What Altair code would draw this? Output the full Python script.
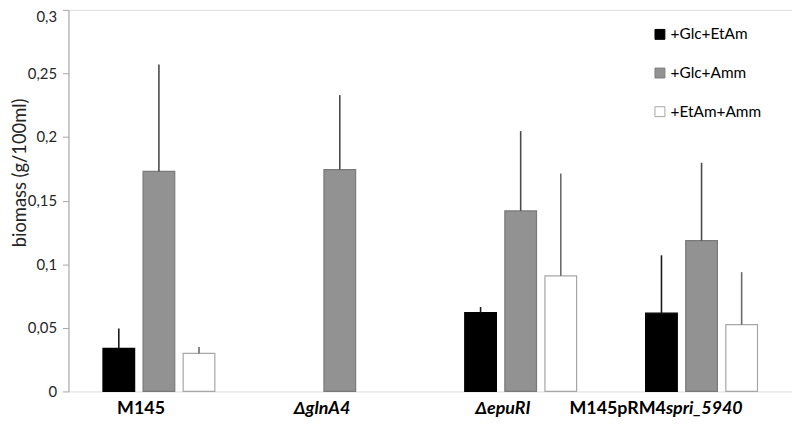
import altair as alt
import pandas as pd

groups = ["M145", "ΔglnA4", "ΔepuRI", "M145pRM4spri_5940"]
series = ["+Glc+EtAm", "+Glc+Amm", "+EtAm+Amm"]

glc_etam = [0.0339, None, 0.0620, 0.0615]
glc_etam_err = [0.0155, None, 0.0044, 0.0455]
glc_amm = [0.1730, 0.1744, 0.1419, 0.1186]
glc_amm_err = [0.0840, 0.0586, 0.0628, 0.0612]
etam_amm = [0.0300, None, 0.0909, 0.0525]
etam_amm_err = [0.0049, None, 0.0804, 0.0413]

y_ticks = [0, 0.05, 0.1, 0.15, 0.2, 0.25, 0.3]

label_upright = ["M145", "", "", "M145pRM4"]
label_italic = ["", "ΔglnA4", "ΔepuRI", "spri_5940"]

rows = []
for s, means, errs in zip(series, [glc_etam, glc_amm, etam_amm],
                          [glc_etam_err, glc_amm_err, etam_amm_err]):
    for g, m, e in zip(groups, means, errs):
        if m is None:
            continue
        rows.append({"group": g, "series": s, "mean": m, "upper": m + e})
df = pd.DataFrame(rows)
labels = pd.DataFrame({"group": groups, "up": label_upright, "it": label_italic})

W, H = 730, 385
FONT = "Lato"

fill_colors = ["#000000", "#929292", "#ffffff"]
stroke_colors = ["#000000", "#7a7a7a", "#a6a6a6"]
err_colors = ["#1a1a1a", "#4a4a4a", "#6a6a6a"]

x_enc = alt.X("group:N", sort=groups, axis=None,
              scale=alt.Scale(domain=groups, paddingInner=0.335, paddingOuter=0.1675))
xo_enc = alt.XOffset("series:N", sort=series,
                     scale=alt.Scale(domain=series, paddingInner=0.21, paddingOuter=0.105))
y_scale = alt.Scale(domain=[0, 0.3], nice=False, zero=True)

legend = alt.Legend(title=None, orient="none", legendX=589, legendY=17,
                    symbolType="square", symbolSize=100, symbolStrokeWidth=1,
                    labelFont=FONT, labelFontSize=15.5, labelColor="#000000",
                    labelOffset=3, rowPadding=22, padding=0)

bars = alt.Chart(df).mark_bar(strokeWidth=1.2).encode(
    x=x_enc,
    xOffset=xo_enc,
    y=alt.Y("mean:Q", scale=y_scale,
            axis=alt.Axis(values=y_ticks, grid=False,
                          labelExpr="replace(format(datum.value, ''), '.', ',')",
                          labelFont=FONT, labelFontSize=15, labelColor="#262626",
                          labelPadding=6,
                          labelOffset={"condition": {"test": "datum.value >= 0.3",
                                                     "value": 7}, "value": 0},
                          domainColor="#a6a6a6", tickColor="#a6a6a6", tickSize=6,
                          title="biomass (g/100ml)", titleFont=FONT,
                          titleFontSize=18.5, titleFontWeight="normal",
                          titleColor="#262626", titleX=-58, titleY=164,
                          titleBaseline="top")),
    fill=alt.Fill("series:N", sort=series,
                  scale=alt.Scale(domain=series, range=fill_colors), legend=legend),
    stroke=alt.Stroke("series:N", sort=series,
                      scale=alt.Scale(domain=series, range=stroke_colors), legend=legend),
)

err_layers = []
for s, c in zip(series, err_colors):
    err_layers.append(
        alt.Chart(df).transform_filter(alt.datum.series == s).mark_rule(
            color=c, strokeWidth=1.6).encode(
            x=x_enc, xOffset=xo_enc,
            y=alt.Y("mean:Q", scale=y_scale), y2="upper:Q")
    )

label_y = alt.value(H + 18)
lab_base = alt.Chart(labels)
DX = -18
DX_SPLIT = -36
LFS = 18
lab_a = lab_base.transform_filter("datum.up != '' && datum.it == ''").mark_text(
    font=FONT, fontSize=LFS, fontWeight="bold", align="center", baseline="middle",
    dx=DX, color="#000000").encode(x=x_enc, y=label_y, text="up:N")
lab_b = lab_base.transform_filter("datum.it != '' && datum.up == ''").mark_text(
    font=FONT, fontSize=LFS, fontWeight="bold", fontStyle="italic", align="center",
    baseline="middle", dx=DX, color="#000000").encode(x=x_enc, y=label_y, text="it:N")
lab_c1 = lab_base.transform_filter("datum.it != '' && datum.up != ''").mark_text(
    font=FONT, fontSize=LFS, fontWeight="bold", align="right", baseline="middle",
    dx=DX_SPLIT, color="#000000").encode(x=x_enc, y=label_y, text="up:N")
lab_c2 = lab_base.transform_filter("datum.it != '' && datum.up != ''").mark_text(
    font=FONT, fontSize=LFS, fontWeight="bold", fontStyle="italic", align="left",
    baseline="middle", dx=DX_SPLIT, color="#000000").encode(x=x_enc, y=label_y, text="it:N")

chart = alt.layer(bars, *err_layers, lab_a, lab_b, lab_c1, lab_c2).properties(
    width=W, height=H,
    autosize=alt.AutoSizeParams(type="none"),
    padding={"left": 61, "top": 0, "right": 0, "bottom": 33},
    background="#ffffff",
).configure_view(stroke="#a6a6a6", strokeWidth=1).configure(font=FONT)

chart.save("out.html", embed_options={"renderer": "svg", "actions": False})
